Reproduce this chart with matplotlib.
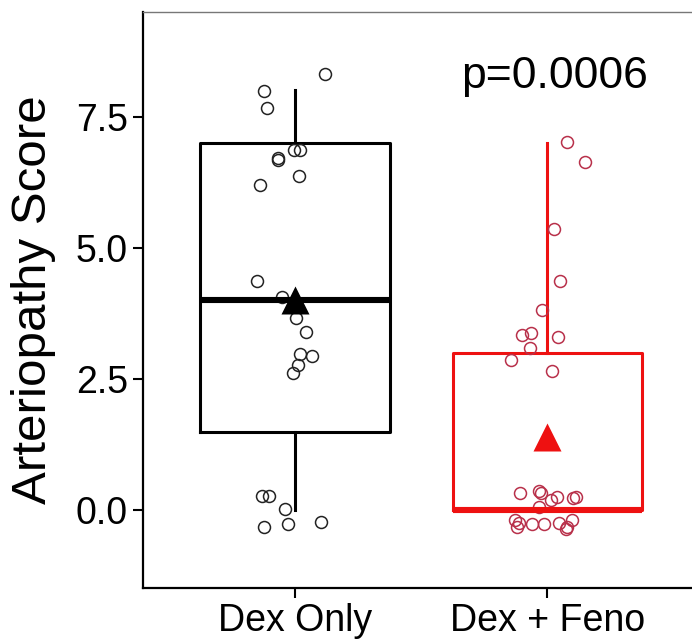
import numpy as np
import matplotlib.pyplot as plt

plt.rcParams['font.family'] = ['Liberation Sans', 'DejaVu Sans']

# groups and axis text
groups = ["Dex Only", "Dex + Feno"]
y_ticks = [0.0, 2.5, 5.0, 7.5]
y_label = "Arteriopathy Score"
p_text = "p=0.0006"

# jittered points (y value, horizontal jitter)
dex_y = [8.31, 7.98, 7.67, 6.86, 6.86, 6.71, 6.67, 6.37, 6.19, 4.37, 4.06, 3.66,
         3.40, 2.97, 2.95, 2.77, 2.61, 0.28, 0.28, 0.03, -0.31, -0.25, -0.22]
dex_jit = [0.120, -0.121, -0.112, -0.003, 0.022, -0.065, -0.066, 0.017, -0.137,
           -0.150, -0.051, 0.004, 0.046, 0.021, 0.068, 0.011, -0.007, -0.131,
           -0.101, -0.040, -0.123, -0.028, 0.105]
feno_y = [7.02, 6.63, 5.36, 4.37, 3.81, 3.34, 3.37, 3.30, 3.09, 2.87, 2.66,
          0.33, 0.38, 0.34, 0.26, 0.20, 0.24, 0.26, 0.07, -0.18, -0.24, -0.31,
          -0.26, -0.26, -0.23, -0.31, -0.19, -0.36]
feno_jit = [0.078, 0.149, 0.025, 0.050, -0.023, -0.101, -0.064, 0.040, -0.068,
            -0.146, 0.020, -0.109, -0.035, -0.025, 0.039, 0.014, 0.102, 0.113,
            -0.035, -0.128, -0.112, -0.120, -0.061, -0.014, 0.047, 0.076, 0.096,
            0.073]

# box summaries
q1 = [1.5, 0.0]
med = [4.0, 0.0]
q3 = [7.0, 3.0]
whis_lo = [0.0, 0.0]
whis_hi = [8.0, 7.0]
means = [4.0, 1.4]

box_cols = ["black", "#EE1111"]
pt_cols = ["#222222", "#B8304A"]

fig = plt.figure(figsize=(6.92, 6.44), dpi=100)
ax = fig.add_axes([0.2071, 0.087, 0.803, 0.8944])

pos = np.arange(1, len(groups) + 1)
for i in range(len(groups)):
    st = [dict(med=med[i], q1=q1[i], q3=q3[i], whislo=whis_lo[i], whishi=whis_hi[i])]
    ax.bxp(st, positions=[pos[i]], widths=0.75, showcaps=False, showfliers=False,
           boxprops=dict(color=box_cols[i], lw=2.2),
           whiskerprops=dict(color=box_cols[i], lw=2.2),
           medianprops=dict(color=box_cols[i], lw=4.4, solid_capstyle='butt'),
           manage_ticks=False)

ax.plot(pos[0] + np.array(dex_jit), dex_y, 'o', ms=8.6, mfc='none',
        mec=pt_cols[0], mew=1.1)
ax.plot(pos[1] + np.array(feno_jit), feno_y, 'o', ms=8.6, mfc='none',
        mec=pt_cols[1], mew=1.1)

for i in range(len(groups)):
    ax.plot(pos[i], means[i], '^', ms=20, color=box_cols[i], mec='none')

ax.text(2.03, 8.35, p_text, ha='center', va='center_baseline', fontsize=32)

ax.set_xlim(0.4, 2.6)
ax.set_ylim(-1.475, 9.49)
ax.set_xticks(pos)
ax.set_xticklabels(groups)
ax.set_yticks(y_ticks)
ax.set_yticklabels(["%.1f" % v for v in y_ticks])
ax.tick_params(labelsize=27, length=7, width=1.5, pad=4, colors='black')
ax.set_ylabel(y_label, fontsize=35.5, labelpad=14)

for s in ['left', 'bottom']:
    ax.spines[s].set_linewidth(1.6)
ax.spines['top'].set_linewidth(1.0)
ax.spines['top'].set_color('#777777')
ax.spines['right'].set_visible(False)

fig.savefig("out.png", dpi=100)
